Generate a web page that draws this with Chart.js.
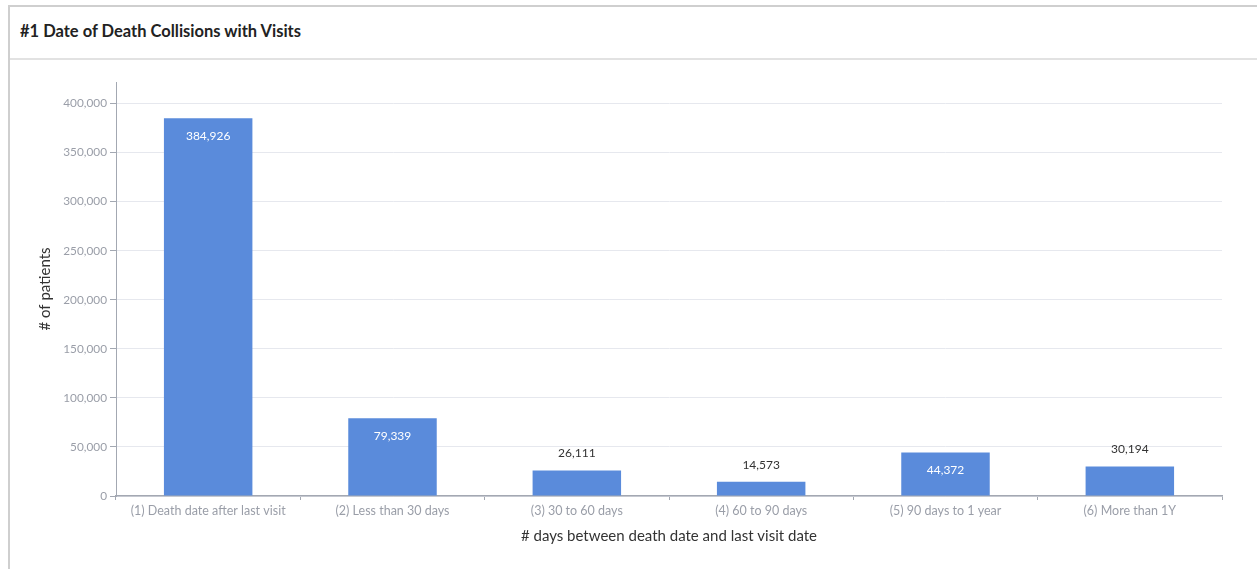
<!DOCTYPE html>
<html>
<head>
<meta charset="utf-8">
<script src="https://cdn.jsdelivr.net/npm/chart.js@4/dist/chart.umd.min.js"></script>
<style>
  html, body { margin: 0; padding: 0; background: #fff; overflow: hidden; }
  body { width: 1257px; height: 569px; position: relative; font-family: Lato, sans-serif; }
  .card { position: absolute; left: 8px; top: 5px; width: 1300px; height: 600px; border-left: 2px solid #cfcfcf; border-top: 2px solid #cfcfcf; }
  .card-title { position: absolute; left: 10px; top: 14px; font-size: 16.5px; font-weight: 700; color: #222; }
  .card-sep { position: absolute; left: 0; top: 51px; width: 100%; border-top: 2px solid #e2e2e2; }
  .chart-box { position: absolute; left: 10px; top: 60px; width: 1247px; height: 509px; }
</style>
</head>
<body>
<div class="card">
  <div class="card-title">#1 Date of Death Collisions with Visits</div>
  <div class="card-sep"></div>
</div>
<div class="chart-box"><canvas id="myChart"></canvas></div>
<script>
const categories = [
    "(1) Death date after last visit",
    "(2) Less than 30 days",
    "(3) 30 to 60 days",
    "(4) 60 to 90 days",
    "(5) 90 days to 1 year",
    "(6) More than 1Y"
];
const patients = [384926, 79339, 26111, 14573, 44372, 30194];
const yTicks = [0, 50000, 100000, 150000, 200000, 250000, 300000, 350000, 400000];

const fmt = v => v.toLocaleString('en-US');
const gridColor = '#e6e8ee';
const axisColor = '#a3a8b2';

// value labels: inside the bar top when it is tall enough, above it otherwise
const barValues = {
    id: 'barValues',
    afterDatasetsDraw(chart) {
        const ctx = chart.ctx;
        const meta = chart.getDatasetMeta(0);
        ctx.save();
        ctx.font = '12px Lato, sans-serif';
        ctx.textAlign = 'center';
        ctx.textBaseline = 'middle';
        meta.data.forEach((bar, i) => {
            const v = chart.data.datasets[0].data[i];
            if (bar.base - bar.y > 40) {
                ctx.fillStyle = '#ffffff';
                ctx.fillText(fmt(v), bar.x, bar.y + 18);
            } else {
                ctx.fillStyle = '#333333';
                ctx.fillText(fmt(v), bar.x, bar.y - 17);
            }
        });
        ctx.restore();
    }
};

new Chart(document.getElementById("myChart"), {
    type: 'bar',
    data: {
        labels: categories,
        datasets: [
            {
                label: "# of patients",
                backgroundColor: '#5a8bdb',
                borderWidth: 0,
                categoryPercentage: 0.8,
                barPercentage: 0.6,
                data: patients
            }
        ]
    },
    plugins: [barValues],
    options: {
        responsive: true,
        maintainAspectRatio: false,
        animation: false,
        layout: { padding: { top: 22, right: 35, left: 22, bottom: 20 } },
        plugins: {
            legend: { display: false },
            tooltip: { enabled: false }
        },
        scales: {
            x: {
                grid: { drawOnChartArea: false, drawTicks: true, tickLength: 4, tickColor: axisColor },
                border: { color: axisColor, width: 1.5 },
                ticks: { color: '#9a9ea8', font: { family: 'Lato', size: 12.5 }, padding: 3, maxRotation: 0 },
                title: { display: true, text: '# days between death date and last visit date', color: '#333', font: { family: 'Lato', size: 15 } },
                afterFit(scale) { scale.height = 53; }
            },
            y: {
                min: 0,
                max: 422000,
                afterBuildTicks(scale) { scale.ticks = yTicks.map(v => ({ value: v })); },
                grid: { color: gridColor, tickLength: 6, tickColor: axisColor },
                border: { color: axisColor, width: 1 },
                ticks: { color: '#9a9ea8', font: { family: 'Lato', size: 11.8 }, padding: 3, callback: v => fmt(v) },
                title: { display: true, text: '# of patients', color: '#333', font: { family: 'Lato', size: 15 } },
                afterFit(scale) { scale.width = 84; }
            }
        }
    }
});
</script>
</body>
</html>
